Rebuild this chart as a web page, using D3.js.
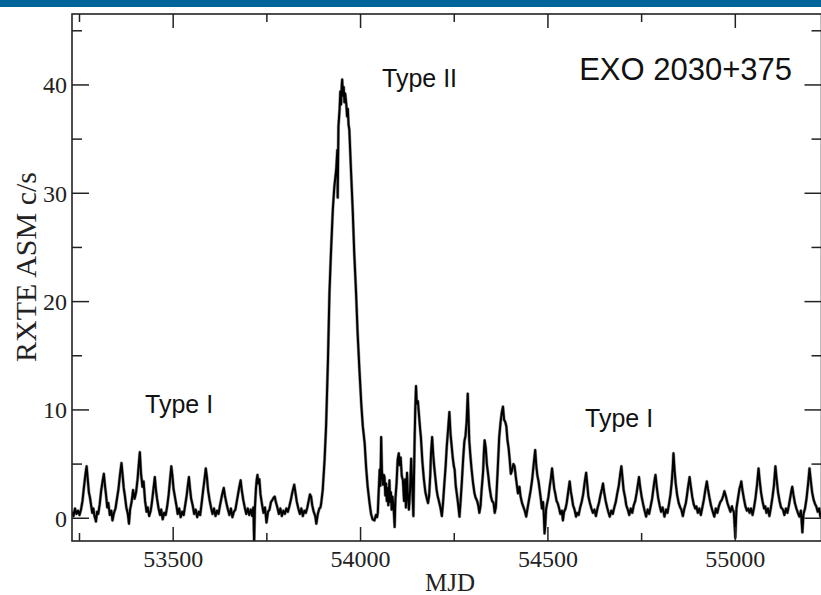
<!DOCTYPE html>
<html>
<head>
<meta charset="utf-8">
<script src="https://cdn.jsdelivr.net/npm/d3@7"></script>
<style>
  body { margin: 0; background: #fff; }
  svg { display: block; }
</style>
</head>
<body>
<svg id="chart"></svg>
<script>
// RXTE ASM light curve of EXO 2030+375 [MJD, c/s]
const typeIEarly = [
  [53230,0.6],[53234,0.2],[53238,0.9],[53242,0.4],[53246,0.7],[53250,0.3],[53254,0.8],[53258,1.6],
  [53262,2.9],[53266,4.1],[53269,4.8],[53272,3.6],[53275,2.4],[53278,1.9],[53281,1.2],[53284,0.5],
  [53287,0.9],[53290,0.2],[53294,-0.3],[53297,0.6],[53300,0.4],[53304,1.3],[53308,2.6],[53312,3.5],
  [53315,4.1],[53318,3.0],[53321,2.1],[53324,1.0],[53327,1.4],[53331,0.3],[53335,0.7],[53338,-0.2],
  [53342,0.5],[53346,0.9],[53350,1.8],[53354,2.7],[53358,4.0],[53362,5.1],[53365,4.0],[53368,2.8],
  [53371,2.1],[53375,1.0],[53379,0.4],[53382,-0.5],[53385,0.8],[53389,1.5],[53393,2.6],[53397,1.8],
  [53401,2.4],[53405,3.6],[53408,4.9],[53411,6.1],[53414,4.2],[53418,2.9],[53421,3.4],[53425,1.6],
  [53429,0.6],[53432,1.0],[53436,0.2],[53440,0.7],[53443,1.4],[53447,2.6],[53451,3.8],[53454,2.6],
  [53457,1.8],[53461,0.9],[53465,0.3],[53468,0.8],[53472,-0.1],[53476,0.5],[53480,0.3],[53484,1.1],
  [53488,2.2],[53492,3.7],[53495,4.8],[53498,3.9],[53501,2.7],[53505,1.9],[53509,1.1],[53512,0.4],
  [53516,0.9],[53520,0.1],[53524,0.6],[53528,0.3],[53532,1.2],[53536,2.1],[53539,3.0],[53542,3.8],
  [53545,2.7],[53548,1.8],[53552,1.2],[53556,0.4],[53560,0.8],[53564,0.1],[53568,0.6],[53572,0.3],
  [53576,1.4],[53580,2.6],[53584,3.7],[53587,4.6],[53590,3.8],[53593,2.6],[53597,1.7],[53601,1.0],
  [53605,0.4],[53609,0.9],[53613,0.2],[53617,0.7],[53621,0.4],[53625,1.2],[53629,1.9],[53632,2.4],
  [53635,2.8],[53638,2.1],[53642,1.4],[53646,0.8],[53650,0.3],[53654,0.9],[53658,0.1],[53662,0.6],
  [53666,0.8],[53670,1.6],[53674,2.4],[53677,3.0],[53680,3.5],[53683,2.6],[53687,1.7],[53691,1.0],
  [53695,0.4],[53699,0.9],[53703,0.3],[53707,0.8],[53711,0.2],[53714,1.0],[53716,-2.3],[53718,0.9],
  [53721,2.8],[53723,3.6],[53725,4.0],[53727,3.2],[53730,3.6],[53733,2.2],[53737,1.3],[53741,0.5],
  [53745,1.0],[53749,-0.4],[53753,0.6],[53757,0.8],[53761,1.5],[53765,1.7],[53768,1.9],[53771,2.0],
  [53774,1.5],[53778,1.0],[53782,0.4],[53786,0.9],[53790,0.2],[53794,0.7],[53798,0.4],[53802,0.9],
  [53806,0.6],[53810,1.1],[53814,1.7],[53818,2.4],[53823,3.1],[53826,2.4],[53830,1.5],[53834,0.9],
  [53838,0.4],[53842,0.9],[53846,0.2],[53850,0.7],[53854,0.5],[53858,1.0],[53862,1.7],[53865,2.2],
  [53868,2.0],[53871,1.2],[53875,0.6],[53879,0.2],[53882,-0.5],[53886,0.4],[53890,0.9],[53893,1.0],
  [53895,1.4]
];

const typeII = [
  [53899,2.6],[53904,5.4],[53908,8.5],[53913,14.6],[53917,20.8],[53921,24.5],[53926,28.5],[53930,30.6],
  [53935,32.2],[53938,34.0],[53939,29.6],[53941,36.2],[53944,37.7],[53946,39.4],[53948,38.2],[53950,40.1],
  [53951,40.5],[53953,39.0],[53955,39.8],[53957,38.4],[53959,39.2],[53962,38.2],[53964,37.1],[53966,37.8],
  [53968,36.3],[53970,35.9],[53974,32.5],[53979,28.5],[53983,24.6],[53988,20.8],[53992,17.2],[53997,13.7],
  [54002,10.5],[54006,8.5],[54011,6.9],[54015,4.6],[54019,2.9],[54024,1.4],[54028,0.4],[54032,-0.1],
  [54037,-0.2],[54041,0.3],[54044,0.1],[54046,0.5]
];

const typeIMid = [
  [54048,2.2],[54051,4.5],[54053,3.0],[54055,7.5],[54057,4.4],[54060,3.1],[54062,4.0],[54064,3.8],
  [54066,2.1],[54068,3.2],[54070,1.6],[54072,2.8],[54074,1.2],[54077,3.5],[54079,1.5],[54081,2.4],
  [54083,0.8],[54085,2.0],[54088,1.1],[54091,-0.8],[54093,1.8],[54096,3.2],[54099,5.4],[54102,6.0],
  [54104,4.9],[54107,5.6],[54110,3.9],[54113,3.5],[54116,1.6],[54119,3.6],[54121,1.0],[54124,4.2],
  [54126,2.2],[54129,0.8],[54132,2.5],[54135,5.5],[54138,2.9],[54141,0.2],[54144,6.8],[54146,10.1],
  [54148,12.2],[54150,10.6],[54153,10.8],[54156,9.5],[54159,8.2],[54161,7.5],[54165,5.2],[54169,3.6],
  [54173,2.4],[54177,1.8],[54180,1.4],[54183,2.1],[54186,4.0],[54188,6.0],[54191,7.5],[54194,5.8],
  [54197,4.6],[54200,3.6],[54203,2.6],[54206,2.0],[54209,1.6],[54213,1.0],[54217,0.2],[54220,1.4],
  [54223,2.9],[54227,4.8],[54230,6.6],[54234,8.4],[54237,9.8],[54240,7.8],[54243,6.7],[54246,5.6],
  [54249,4.8],[54251,4.5],[54254,3.0],[54257,2.2],[54260,1.4],[54264,0.15],[54267,1.6],[54270,3.2],
  [54274,5.6],[54277,7.1],[54280,7.6],[54283,8.9],[54286,11.5],[54288,9.5],[54290,7.2],[54293,5.8],
  [54296,4.6],[54300,3.3],[54304,2.3],[54307,1.9],[54311,1.6],[54314,1.2],[54317,0.5],[54320,1.1],
  [54323,2.6],[54327,4.3],[54329,6.0],[54331,7.2],[54334,6.5],[54337,5.0],[54341,3.9],[54344,2.9],
  [54348,2.0],[54351,1.6],[54355,1.4],[54358,0.5],[54361,1.0],[54363,2.4],[54366,4.5],[54370,7.5],
  [54374,9.0],[54377,9.8],[54380,10.3],[54383,9.1],[54386,8.9],[54389,8.5],[54392,7.2],[54395,6.5],
  [54398,5.4],[54401,4.1],[54404,4.4],[54408,5.0],[54411,4.8],[54414,3.9],[54417,3.1],[54420,2.3],
  [54424,2.9],[54427,2.0],[54431,1.4],[54435,1.0],[54438,0.7],[54442,0.15],[54446,1.0],[54450,1.8],
  [54454,2.6],[54458,3.6],[54462,5.0],[54466,6.3],[54469,4.8],[54472,3.9],[54475,3.4],[54478,2.6],
  [54481,1.8],[54484,0.9],[54487,1.5],[54489,0.3],[54491,-1.4],[54493,-0.6],[54495,0.8],[54498,1.4],
  [54501,1.9],[54505,3.0],[54508,3.7],[54511,4.6],[54514,3.6],[54517,2.7],[54520,2.2],[54523,1.6],
  [54526,1.4],[54530,0.9],[54533,0.4],[54537,0.7],[54540,-0.2],[54543,0.6],[54547,0.9],[54550,1.4],
  [54554,2.4],[54558,3.4],[54561,2.5],[54564,1.9],[54567,1.2],[54571,0.8],[54575,0.15],[54578,0.5],
  [54582,0.3],[54586,1.0],[54590,1.5],[54594,2.2],[54598,3.3],[54602,4.2],[54605,3.1],[54608,2.0],
  [54612,1.4],[54616,0.9],[54620,0.5]
];

const typeILate = [
  [54624,0.8],[54628,0.2],[54632,0.9],[54636,1.4],[54640,2.1],[54644,2.7],[54647,3.2],[54650,2.4],
  [54654,1.6],[54658,1.0],[54661,0.6],[54665,0.15],[54669,0.7],[54673,0.4],[54677,1.0],[54681,1.5],
  [54685,2.3],[54689,3.0],[54693,4.1],[54696,4.8],[54699,3.7],[54702,2.6],[54706,1.9],[54709,1.2],
  [54713,0.8],[54717,0.3],[54721,0.9],[54725,0.5],[54729,1.2],[54733,1.6],[54737,2.4],[54740,3.1],
  [54743,3.8],[54746,2.9],[54750,2.0],[54754,1.3],[54758,0.7],[54762,0.15],[54766,0.8],[54770,0.4],
  [54774,1.1],[54778,1.8],[54781,2.6],[54784,3.4],[54787,4.0],[54790,3.0],[54794,1.9],[54798,1.2],
  [54802,0.6],[54806,1.0],[54811,0.15],[54815,0.8],[54819,0.5],[54823,1.3],[54827,2.2],[54830,3.2],
  [54833,4.6],[54835,6.0],[54838,4.4],[54841,3.2],[54845,2.1],[54849,1.4],[54853,1.0],[54856,0.8],
  [54860,0.2],[54864,0.9],[54868,1.4],[54871,2.1],[54874,2.9],[54878,3.8],[54881,3.0],[54885,2.0],
  [54889,1.3],[54893,0.9],[54896,1.1],[54900,0.5],[54904,0.9],[54908,0.3],[54912,1.0],[54916,1.7],
  [54920,2.6],[54924,3.4],[54927,2.7],[54931,1.9],[54935,1.2],[54939,0.7],[54944,0.15],[54948,0.9],
  [54952,0.5],[54956,1.1],[54960,1.5],[54964,1.7],[54968,2.1],[54971,2.5],[54975,2.0],[54979,1.4],
  [54983,1.0],[54987,0.6],[54991,1.1],[54993,0.8],[54996,0.6],[55000,-1.8],[55003,0.9],[55007,1.8],
  [55011,2.7],[55014,3.1],[55016,3.4],[55019,2.6],[55023,1.8],[55027,1.1],[55031,0.7],[55035,0.9],
  [55038,0.5],[55042,0.9],[55046,0.3],[55050,1.0],[55054,1.9],[55058,3.1],[55062,4.6],[55065,3.5],
  [55069,2.3],[55073,1.5],[55077,0.9],[55080,1.1],[55083,0.5],[55087,0.9],[55091,0.2],[55095,1.0],
  [55099,1.9],[55103,3.0],[55107,4.8],[55110,3.7],[55114,2.4],[55118,1.6],[55122,1.0],[55127,0.8],
  [55131,0.3],[55135,0.9],[55139,0.5],[55143,1.2],[55147,2.0],[55150,2.6],[55152,2.9],[55155,2.2],
  [55159,1.4],[55163,0.9],[55167,0.5],[55171,0.15],[55175,0.7],[55179,-1.3],[55182,0.4],[55186,0.9],
  [55190,1.8],[55194,3.1],[55198,4.6],[55201,3.6],[55205,2.4],[55209,1.7],[55213,1.3],[55216,1.1],
  [55220,0.6],[55224,0.9],[55227,0.15],[55231,0.5]
];

const xMajor = [53500, 54000, 54500, 55000];
const xMinor = [53250, 53750, 54250, 54750, 55250];
const yMajor = [0, 10, 20, 30, 40];
const yMinor = [5, 15, 25, 35, 45];

const width = 821, height = 595;
const svg = d3.select("#chart").attr("width", width).attr("height", height);

// slide header bar
svg.append("rect").attr("x", 0).attr("y", 0).attr("width", width).attr("height", 7).attr("fill", "#00659b");

const plotLeft = 72, plotRight = 821.5, plotTop = 14, plotBottom = 541;
const x = d3.scaleLinear().domain([53230, 55230]).range([plotLeft, plotRight]);
const y = d3.scaleLinear().domain([-2.1, 46.55]).range([plotBottom, plotTop]);

svg.append("clipPath").attr("id", "plotclip")
  .append("rect").attr("x", plotLeft).attr("y", plotTop)
  .attr("width", plotRight - plotLeft).attr("height", plotBottom - plotTop);

const series = typeIEarly.concat(typeII, typeIMid, typeILate);
const line = d3.line().x(d => x(d[0])).y(d => y(d[1]));

// soft grey halo under the curve, like the anti-aliased scan
svg.append("path")
  .datum(series)
  .attr("clip-path", "url(#plotclip)")
  .attr("fill", "none")
  .attr("stroke", "#9a9a9a")
  .attr("stroke-width", 3.2)
  .attr("stroke-linejoin", "round")
  .attr("d", line);

svg.append("path")
  .datum(series)
  .attr("clip-path", "url(#plotclip)")
  .attr("fill", "none")
  .attr("stroke", "#000")
  .attr("stroke-width", 2)
  .attr("stroke-linejoin", "round")
  .attr("d", line);

// frame
svg.append("rect")
  .attr("x", plotLeft).attr("y", plotTop)
  .attr("width", plotRight - plotLeft).attr("height", plotBottom - plotTop)
  .attr("fill", "none").attr("stroke", "#222").attr("stroke-width", 1.6);

const tickG = svg.append("g").attr("stroke", "#222").attr("stroke-width", 1.5);
// x ticks, bottom and top, pointing inward
xMajor.concat(xMinor).forEach(v => {
  const len = xMajor.includes(v) ? 14 : 8;
  tickG.append("line").attr("x1", x(v)).attr("x2", x(v)).attr("y1", plotBottom).attr("y2", plotBottom - len);
  tickG.append("line").attr("x1", x(v)).attr("x2", x(v)).attr("y1", plotTop).attr("y2", plotTop + len);
});
// y ticks, left and right
yMajor.concat(yMinor).forEach(v => {
  const len = yMajor.includes(v) ? 17 : 10;
  tickG.append("line").attr("x1", plotLeft).attr("x2", plotLeft + len).attr("y1", y(v)).attr("y2", y(v));
  tickG.append("line").attr("x1", plotRight).attr("x2", plotRight - len).attr("y1", y(v)).attr("y2", y(v));
});

const serif = "'Liberation Serif', 'Times New Roman', serif";
const sans = "'Liberation Sans', Arial, sans-serif";

svg.append("g").selectAll("text").data(xMajor).join("text")
  .attr("x", d => x(d)).attr("y", 566.5)
  .attr("text-anchor", "middle")
  .attr("font-family", serif).attr("font-size", 24).attr("fill", "#222")
  .text(d => d);

svg.append("g").selectAll("text").data(yMajor).join("text")
  .attr("x", 67).attr("y", d => y(d)).attr("dy", "0.35em")
  .attr("text-anchor", "end")
  .attr("font-family", serif).attr("font-size", 24).attr("fill", "#222")
  .text(d => d);

svg.append("text")
  .attr("x", 450).attr("y", 591)
  .attr("text-anchor", "middle")
  .attr("font-family", serif).attr("font-size", 25).attr("fill", "#222")
  .text("MJD");

svg.append("text")
  .attr("transform", "translate(36,267) rotate(-90)")
  .attr("text-anchor", "middle")
  .attr("font-family", serif).attr("font-size", 30).attr("fill", "#222")
  .text("RXTE ASM c/s");

// annotations
const notes = [
  { t: "Type I", x: 145, y: 413, size: 25, anchor: "start" },
  { t: "Type II", x: 382, y: 87, size: 25, anchor: "start" },
  { t: "Type I", x: 585, y: 427, size: 25, anchor: "start" },
  { t: "EXO 2030+375", x: 792, y: 80, size: 31, anchor: "end" }
];
svg.append("g").selectAll("text").data(notes).join("text")
  .attr("x", d => d.x).attr("y", d => d.y)
  .attr("text-anchor", d => d.anchor)
  .attr("font-family", sans).attr("font-size", d => d.size).attr("fill", "#111")
  .text(d => d.t);
</script>
</body>
</html>
